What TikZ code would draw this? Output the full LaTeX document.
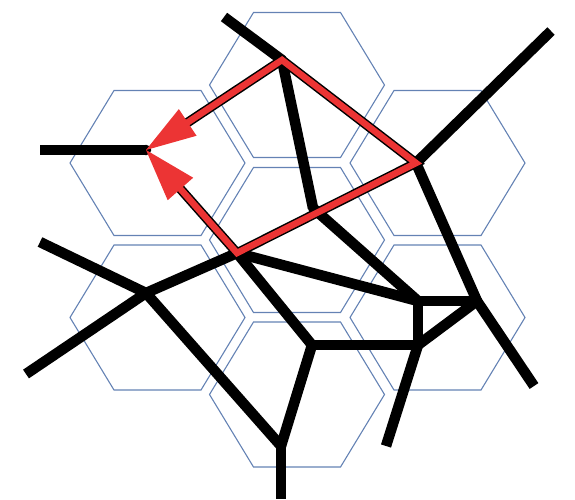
\documentclass[tikz,border=0pt]{standalone}
\usetikzlibrary{calc}
\definecolor{hexc}{RGB}{100,130,180}
\definecolor{redc}{RGB}{236,52,52}
\begin{document}
\begin{tikzpicture}[x=1pt,y=-1pt,
  hexline/.style={draw=hexc, line width=1.1pt, line join=miter},
  edge/.style={draw=black, line width=10.5pt, line cap=butt},
  joint/.style={fill=black},
  redouter/.style={draw=black, line width=9.5pt, line join=miter},
  redinner/.style={draw=redc, line width=6.5pt, line join=miter},
  tip/.style={fill=redc}]
\useasboundingbox (0,0) rectangle (575,499);
% hexagons
\foreach \cx/\cy in {297/85, 157.5/163, 437.5/163, 297/240, 157.5/317.5, 437.5/317.5, 297/394.5}{
  \draw[hexline, shift={(\cx,\cy)}] (-87.5,0) -- (-43.5,-72.5) -- (43.5,-72.5) -- (87.5,0) -- (43.5,72.5) -- (-43.5,72.5) -- cycle;
}
% vertices
\coordinate (A) at (224,17);
\coordinate (P1) at (282,60);
\coordinate (W) at (40,150);
\coordinate (V) at (146,150);
\coordinate (M) at (313,208);
\coordinate (R) at (416,163);
\coordinate (NE) at (551,31);
\coordinate (Q1) at (418,301);
\coordinate (Q2) at (477,301);
\coordinate (Q3) at (418,345);
\coordinate (Q4) at (312,345);
\coordinate (P2) at (237,253);
\coordinate (L) at (146,293);
\coordinate (NW) at (40,242);
\coordinate (SW) at (26,374);
\coordinate (B) at (281,446);
\coordinate (Bot) at (281,499);
\coordinate (SE) at (534,386);
\coordinate (S) at (386,446);
% black edges
\draw[edge] (A) -- (P1);
\draw[edge] (W) -- (V);
\draw[edge] (P1) -- (M);
\draw[edge] (R) -- (NE);
\draw[edge] (R) -- (Q2);
\draw[edge] (M) -- (Q1);
\draw[edge] (P2) -- (Q1);
\draw[edge] (P2) -- (L);
\draw[edge] (P2) -- (Q4);
\draw[edge] (Q1) -- (Q2);
\draw[edge] (Q1) -- (Q3);
\draw[edge] (Q2) -- (Q3);
\draw[edge] (Q3) -- (Q4);
\draw[edge] (Q2) -- (SE);
\draw[edge] (Q3) -- (S);
\draw[edge] (Q4) -- (B);
\draw[edge] (B) -- (Bot);
\draw[edge] (L) -- (B);
\draw[edge] (L) -- (NW);
\draw[edge] (L) -- (SW);
\foreach \p in {P1,V,M,R,Q1,Q2,Q3,Q4,P2,L,B}{\fill[joint] (\p) circle[radius=5.25pt];}
% red path
\coordinate (K1) at ($(V)!50pt!(P1)$);
\coordinate (K2) at ($(V)!52pt!(P2)$);
\coordinate (E1) at ($(V)!47pt!(P1)$);
\coordinate (E2) at ($(V)!49pt!(P2)$);
\draw[redouter] (E1) -- (P1) -- (R) -- (P2) -- (E2);
\draw[redinner] (E1) -- (P1) -- (R) -- (P2) -- (E2);
\fill[tip] (V) -- ($(K1)!16pt!90:(V)$) -- ($(K1)!16pt!-90:(V)$) -- cycle;
\fill[tip] (V) -- ($(K2)!17pt!90:(V)$) -- ($(K2)!17pt!-90:(V)$) -- cycle;
\end{tikzpicture}
\end{document}
